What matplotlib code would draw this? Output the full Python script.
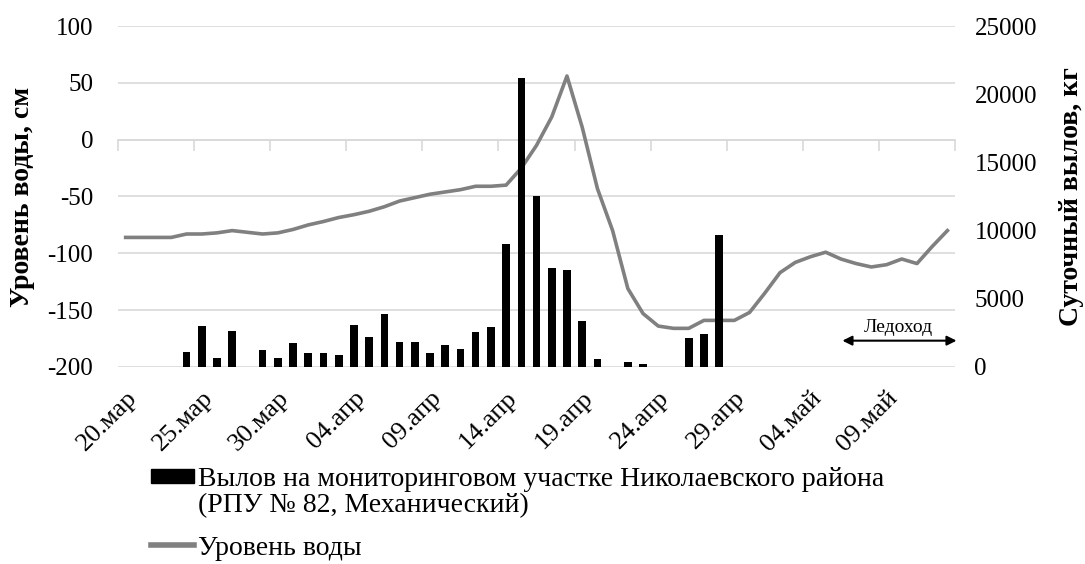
import numpy as np
import matplotlib
matplotlib.use("Agg")
import matplotlib.pyplot as plt
from matplotlib.patches import Rectangle
from matplotlib.lines import Line2D
from matplotlib.legend_handler import HandlerPatch

plt.rcParams['font.family'] = ['Liberation Serif', 'DejaVu Serif']
plt.rcParams['axes.unicode_minus'] = False

# daily data, 20 Mar .. 13 May
tick_labels = ['20.мар', '25.мар', '30.мар', '04.апр', '09.апр', '14.апр',
               '19.апр', '24.апр', '29.апр', '04.май', '09.май']

water_level = [-86, -86, -86, -86, -83, -83, -82, -80, -81.5, -83,
               -82, -79, -75, -72, -68.5, -66, -63, -59, -54, -51,
               -48, -46, -44, -41, -41, -40, -25, -5, 20, 56,
               11, -43, -80, -131, -153, -164, -166, -166, -159, -159,
               -159, -152, -135, -117, -108, -103, -99, -105, -109, -112,
               -110, -105, -109, -94, -80]

catch = [0, 0, 0, 0, 1100, 3000, 650, 2650, 0, 1250,
         650, 1750, 1000, 1000, 900, 3100, 2200, 3850, 1850, 1850,
         1000, 1600, 1350, 2600, 2950, 9000, 21200, 12550, 7250, 7100,
         3350, 600, 0, 350, 200, 0, 0, 2100, 2400, 9700,
         0, 0, 0, 0, 0, 0, 0, 0, 0, 0,
         0, 0, 0, 0, 0]

x = np.arange(len(water_level))

fig = plt.figure(figsize=(10.85, 5.64), dpi=100)
ax = fig.add_axes([0.1088, 0.3493, 0.7714, 0.6046])
ax2 = ax.twinx()

grid_col = '#d9d9d9'

ax.plot(x, water_level, color='#808080', lw=2.6, solid_joinstyle='round', zorder=3)
ax2.bar(x, catch, width=0.5, color='black', zorder=3)

ax.set_ylim(-200, 100)
ax.set_yticks(np.arange(-200, 101, 50))
ax2.set_ylim(0, 25000)
ax2.set_yticks(np.arange(0, 25001, 5000))
ax.set_xlim(-0.5, len(x) - 0.5)

ax.yaxis.grid(True, color=grid_col, lw=1.2)
ax.set_axisbelow(True)
for a in (ax, ax2):
    for s in a.spines.values():
        s.set_visible(False)
    a.tick_params(axis='y', length=0, labelsize=18)
ax.tick_params(axis='y', pad=18)
ax2.tick_params(axis='y', pad=14)

# category labels at bottom, no tick marks
ax.set_xticks(x[::5])
ax.set_xticklabels(tick_labels, rotation=45, ha='right', va='top',
                   rotation_mode='anchor', fontsize=19)
ax.tick_params(axis='x', length=0, pad=14)

# horizontal axis crossing at zero with tick marks between categories
sec = ax.secondary_xaxis(2 / 3)
sec.set_alignment('bottom')
sec.set_xticks(np.arange(-0.5, len(x), 5))
sec.set_xticklabels([])
sec.tick_params(axis='x', direction='out', length=8, color=grid_col, width=1.2)
sec.spines['bottom'].set_color(grid_col)
sec.spines['bottom'].set_linewidth(1.2)

ax.set_ylabel('Уровень воды, см', fontsize=20, fontweight='bold')
ax.yaxis.set_label_coords(-0.099, 0.5)
ax2.set_ylabel('Суточный вылов, кг', fontsize=20, fontweight='bold')
ax2.yaxis.set_label_coords(1.124, 0.5)

# ice drift period
ax2.annotate('', xy=(54.6, 1930), xytext=(47.1, 1930), annotation_clip=False,
             arrowprops=dict(arrowstyle='<|-|>', color='black', lw=1.5,
                             mutation_scale=14, shrinkA=0, shrinkB=0))
ax2.text(50.8, 2300, 'Ледоход', ha='center', va='bottom', fontsize=14)

leg_fs = 20


def first_line_box(legend, orig_handle, xdescent, ydescent, width, height, fontsize):
    # put the box next to the first line of a two-line label
    h = 0.5 * fontsize
    shift = 0.6 * fontsize
    return Rectangle((-xdescent, -ydescent + (height - h) / 2 + shift), width, h)


handles = [Rectangle((0, 0), 1, 1, color='black'),
           Line2D([0], [0], color='#808080', lw=4)]
labels = ['Вылов на мониторинговом участке Николаевского района\n(РПУ № 82, Механический)',
          'Уровень воды']
leg = fig.legend(handles, labels, loc='upper left', bbox_to_anchor=(0.139, 0.172),
                 frameon=False, fontsize=leg_fs, handlelength=1.55, handletextpad=0.15,
                 borderpad=0, borderaxespad=0, labelspacing=0.62,
                 handler_map={Rectangle: HandlerPatch(patch_func=first_line_box)})
for t in leg.get_texts():
    t.set_linespacing(1.07)

fig.savefig('out.png', dpi=100)
